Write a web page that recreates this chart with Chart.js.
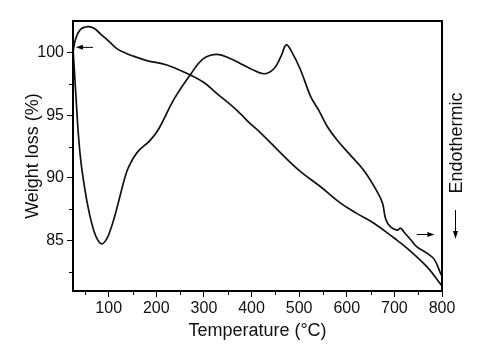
<!DOCTYPE html>
<html>
<head>
<meta charset="utf-8">
<script src="https://cdn.jsdelivr.net/npm/chart.js@4"></script>
<style>
  html, body { margin: 0; padding: 0; background: #fff; }
  #wrap { width: 489px; height: 354px; }
</style>
</head>
<body>
<div id="wrap"><canvas id="tgaChart" width="489" height="354"></canvas></div>
<script>
// TGA curve (left axis, weight loss %)
const tgaTemp   = [25, 30, 40, 57, 70, 82, 100, 117, 135, 152, 180, 222, 271, 300, 328, 360, 377, 398, 419, 461, 503, 545, 587, 620, 657, 700, 727, 769, 800];
const tgaWeight = [100.0, 101.0, 101.8, 102.05, 101.9, 101.5, 100.9, 100.3, 99.95, 99.7, 99.35, 99.0, 98.2, 97.6, 96.7, 95.7, 95.1, 94.3, 93.6, 92.0, 90.5, 89.3, 88.0, 87.2, 86.4, 85.2, 84.4, 82.9, 81.4];

// DTA curve (right side, endothermic down)
const dtaTemp   = [25, 28, 32, 36, 41, 47, 54, 61, 68, 75, 85, 95, 103, 113, 124, 133, 141, 159, 187, 205, 236, 271, 299, 328, 356, 377, 398, 426, 447, 462, 473, 485, 503, 524, 541, 559, 580, 608, 636, 664, 675, 682, 692, 706, 713, 720, 734, 748, 769, 784, 797, 800];
const dtaSignal = [100.3, 98.5, 96.0, 93.6, 91.5, 89.8, 88.2, 86.9, 85.9, 85.2, 84.75, 85.1, 85.8, 87.0, 88.6, 89.9, 90.8, 92.0, 93.0, 93.9, 96.2, 98.2, 99.5, 99.85, 99.5, 99.1, 98.7, 98.3, 98.7, 99.7, 100.6, 100.0, 98.6, 96.5, 95.4, 94.1, 93.0, 91.8, 90.6, 88.9, 88.0, 86.7, 86.1, 85.85, 86.0, 85.7, 85.1, 84.5, 84.0, 83.5, 82.4, 82.2];

// axis ticks
const xMin = 25, xMax = 800;
const xTicks = [50, 100, 150, 200, 250, 300, 350, 400, 450, 500, 550, 600, 650, 700, 750, 800];
const yMin = 81, yMax = 102.5;
const yTicks = [82.5, 85, 87.5, 90, 92.5, 95, 97.5, 100];

// little arrows showing which curve belongs to which side
const arrowLeft  = { from: [67, 100.4], to: [31, 100.4] };
const arrowRight = { from: [747, 85.5], to: [784, 85.5] };

const FONT = "'Liberation Sans', Arial, sans-serif";

function toXY(xs, ys) {
  return xs.map((x, i) => ({ x: x, y: ys[i] }));
}

function drawArrow(ctx, x1, y1, x2, y2) {
  const dir = Math.sign(x2 - x1);
  ctx.beginPath();
  ctx.moveTo(x1, y1);
  ctx.lineTo(x2 - dir * 5, y2);
  ctx.stroke();
  ctx.beginPath();
  ctx.moveTo(x2, y2);
  ctx.lineTo(x2 - dir * 7, y2 - 2.5);
  ctx.lineTo(x2 - dir * 7, y2 + 2.5);
  ctx.closePath();
  ctx.fill();
}

const extras = {
  id: 'extras',
  afterDraw(chart) {
    const ctx = chart.ctx;
    const a = chart.chartArea;
    const xs = chart.scales.x, ys = chart.scales.y;
    ctx.save();
    ctx.strokeStyle = '#000';
    ctx.fillStyle = '#000';

    // frame
    ctx.lineWidth = 2;
    ctx.strokeRect(a.left, a.top, a.right - a.left, a.bottom - a.top);

    // minor ticks
    ctx.lineWidth = 1;
    xTicks.filter(v => v % 100 !== 0).forEach(v => {
      const px = Math.round(xs.getPixelForValue(v)) + 0.5;
      ctx.beginPath();
      ctx.moveTo(px, a.bottom);
      ctx.lineTo(px, a.bottom + 4);
      ctx.stroke();
    });
    yTicks.filter(v => v % 5 !== 0).forEach(v => {
      const py = Math.round(ys.getPixelForValue(v)) + 0.5;
      ctx.beginPath();
      ctx.moveTo(a.left, py);
      ctx.lineTo(a.left - 4, py);
      ctx.stroke();
    });

    // arrows
    [arrowLeft, arrowRight].forEach(ar => {
      drawArrow(ctx,
        xs.getPixelForValue(ar.from[0]), ys.getPixelForValue(ar.from[1]),
        xs.getPixelForValue(ar.to[0]), ys.getPixelForValue(ar.to[1]));
    });

    // right side label
    ctx.font = '18px ' + FONT;
    ctx.fillStyle = '#111';
    ctx.textAlign = 'center';
    ctx.textBaseline = 'middle';
    ctx.save();
    ctx.translate(a.right + 15, 143);
    ctx.rotate(-Math.PI / 2);
    ctx.fillText('Endothermic', 0, 0);
    ctx.restore();

    // endothermic arrow (down)
    const ax = a.right + 13.5;
    ctx.beginPath();
    ctx.moveTo(ax, 210);
    ctx.lineTo(ax, 232);
    ctx.stroke();
    ctx.beginPath();
    ctx.moveTo(ax, 239);
    ctx.lineTo(ax - 2.5, 231);
    ctx.lineTo(ax + 2.5, 231);
    ctx.closePath();
    ctx.fillStyle = '#000';
    ctx.fill();

    ctx.restore();
  }
};

const lineStyle = {
  borderColor: '#111',
  borderWidth: 1.7,
  pointRadius: 0,
  fill: false,
  tension: 0.4
};

new Chart(document.getElementById('tgaChart').getContext('2d'), {
  type: 'line',
  data: {
    datasets: [
      Object.assign({ label: 'Weight loss', data: toXY(tgaTemp, tgaWeight), yAxisID: 'y' }, lineStyle),
      Object.assign({ label: 'DTA', data: toXY(dtaTemp, dtaSignal), yAxisID: 'y2' }, lineStyle)
    ]
  },
  options: {
    responsive: false,
    animation: false,
    events: [],
    layout: { padding: { top: 21, right: 47, left: 0, bottom: 0 } },
    plugins: { legend: { display: false }, tooltip: { enabled: false } },
    scales: {
      x: {
        type: 'linear',
        min: xMin,
        max: xMax,
        afterBuildTicks: scale => { scale.ticks = xTicks.map(v => ({ value: v })); },
        afterFit: scale => { scale.height = 63; },
        grid: {
          drawOnChartArea: false,
          tickLength: 6,
          tickColor: c => (c.tick && c.tick.value % 100 === 0) ? '#000' : 'rgba(0,0,0,0)'
        },
        border: { color: '#000', width: 2 },
        ticks: {
          autoSkip: false,
          maxRotation: 0,
          padding: 2,
          color: '#111',
          font: { family: FONT, size: 16 },
          callback: v => (v % 100 === 0 ? String(v) : '')
        },
        title: {
          display: true,
          text: 'Temperature (°C)',
          color: '#111',
          font: { family: FONT, size: 18 },
          padding: { top: 0, bottom: 12 }
        }
      },
      y: {
        min: yMin,
        max: yMax,
        afterBuildTicks: scale => { scale.ticks = yTicks.map(v => ({ value: v })); },
        afterFit: scale => { scale.width = 73; },
        grid: {
          drawOnChartArea: false,
          tickLength: 6,
          tickColor: c => (c.tick && c.tick.value % 5 === 0) ? '#000' : 'rgba(0,0,0,0)'
        },
        border: { color: '#000', width: 2 },
        ticks: {
          autoSkip: false,
          padding: 3,
          color: '#111',
          font: { family: FONT, size: 16 },
          callback: v => (v % 5 === 0 ? String(v) : '')
        },
        title: {
          display: true,
          text: 'Weight loss (%)',
          color: '#111',
          font: { family: FONT, size: 18 },
          padding: { top: 22, bottom: 0 }
        }
      },
      y2: {
        display: false,
        min: yMin,
        max: yMax
      }
    }
  },
  plugins: [extras]
});
</script>
</body>
</html>
